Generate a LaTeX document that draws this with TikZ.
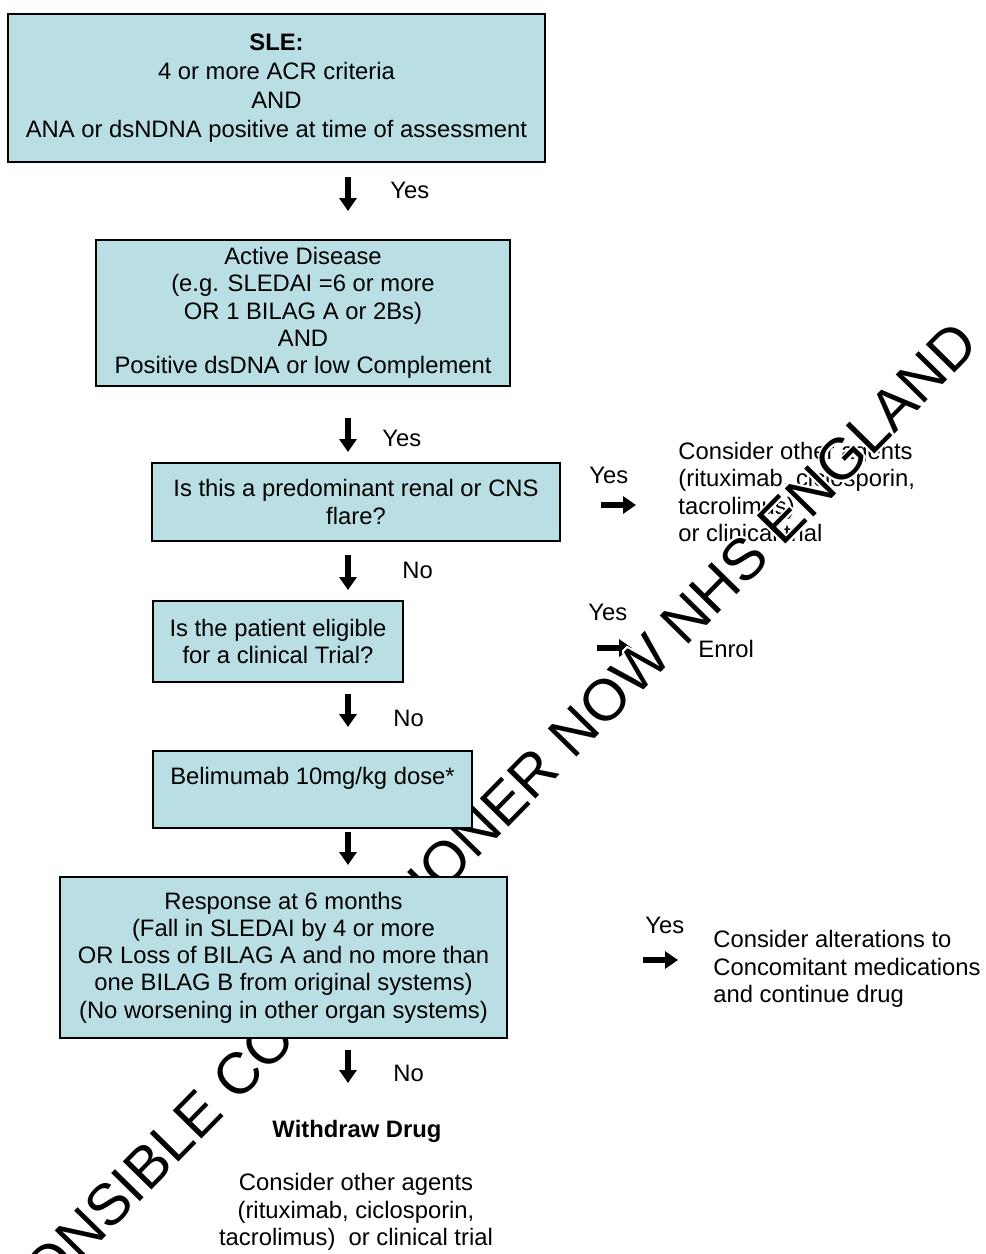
\documentclass[tikz,border=0pt]{standalone}
\usepackage{fontspec}
\setmainfont{Liberation Sans}
\usepackage{contour}
\usetikzlibrary{arrows.meta}
\definecolor{boxfill}{RGB}{185,223,228}
\contourlength{0.8pt}
\contournumber{32}

\tikzset{
  flowbox/.style={draw=black, line width=0.9pt, fill=boxfill, align=center, inner sep=0pt},
  arr/.style={line width=2.8pt, -{Triangle[length=6.5pt,width=8.5pt]}},
  lbl/.style={anchor=west, inner sep=0pt},
  note/.style={anchor=west, align=left, inner sep=0pt},
}

\begin{document}
\begin{tikzpicture}[x=0.5pt, y=-0.5pt, font=\fontsize{11.9pt}{13.6pt}\selectfont]
\useasboundingbox (0,0) rectangle (986,1254);
\fill[white] (0,0) rectangle (986,1254);
\clip (0,0) rectangle (986,1254);

% down arrows
\coordinate (d1a) at (348,177); \coordinate (d1b) at (348,211);
\coordinate (d2a) at (348,418); \coordinate (d2b) at (348,452);
\coordinate (d3a) at (348,555); \coordinate (d3b) at (348,590);
\coordinate (d4a) at (348,694); \coordinate (d4b) at (348,727);
\coordinate (d5a) at (348,832); \coordinate (d5b) at (348,865);
\coordinate (d6a) at (348,1050); \coordinate (d6b) at (348,1083);
\draw[arr] (d1a) -- (d1b);
\draw[arr] (d2a) -- (d2b);
\draw[arr] (d3a) -- (d3b);
\draw[arr] (d4a) -- (d4b);
\draw[arr] (d5a) -- (d5b);
\draw[arr] (d6a) -- (d6b);

\node[lbl] (yes1) at (390,190) {Yes};
\node[lbl] (yes2) at (382,438) {Yes};
\node[lbl] (no3) at (402,570) {No};
\node[lbl] (no4) at (393,718) {No};
\node[lbl] (no6) at (393,1073) {No};

% side exits
\coordinate (r1a) at (601,505); \coordinate (r1b) at (636,505);
\coordinate (r2a) at (597,648); \coordinate (r2b) at (632,648);
\coordinate (r3a) at (643,960); \coordinate (r3b) at (678,960);
\draw[arr] (r1a) -- (r1b);
\draw[arr] (r2a) -- (r2b);
\draw[arr] (r3a) -- (r3b);

\node[lbl] (yesr1) at (589,475) {Yes};
\node[lbl] (yesr2) at (588,612) {Yes};
\node[lbl] (yesr3) at (645,925) {Yes};

\node[note] (agents) at (678,492) {Consider other agents\\(rituximab, ciclosporin,\\tacrolimus)\\or clinical trial};
\node[lbl] (enrol) at (698,649) {Enrol};
\node[note] (alter) at (713,969) {Consider alterations to\\Concomitant medications\\and continue drug};

\node[font=\fontsize{11.9pt}{13.6pt}\selectfont\bfseries, inner sep=0pt] (withdraw) at (357,1131) {Withdraw Drug};
\node[align=center, inner sep=0pt] (others) at (356,1212) {Consider other agents\\(rituximab, ciclosporin,\\tacrolimus)~ or clinical trial};

% watermark
\node[rotate=45.5, inner sep=0pt, font=\fontsize{29.2pt}{31pt}\selectfont] (mark) at (445,864)
  {\contour{white}{RESPONSIBLE COMMISSIONER NOW NHS ENGLAND}};

% boxes
\node[flowbox, minimum width=268.5pt, minimum height=74pt, font=\fontsize{11.9pt}{14.6pt}\selectfont] (sle) at (276.5,88)
  {\textbf{SLE:}\\4 or more ACR criteria\\AND\\ANA or dsNDNA positive at time of assessment};
\node[flowbox, minimum width=207pt, minimum height=73pt] (active) at (303,313)
  {Active Disease\\(e.g. SLEDAI =6 or more\\OR 1 BILAG A or 2Bs)\\AND\\Positive dsDNA or low Complement};
\node[flowbox, minimum width=204pt, minimum height=39pt] (flare) at (356,502)
  {Is this a predominant renal or CNS\\flare?};
\node[flowbox, minimum width=125pt, minimum height=40.5pt] (trial) at (278,641.5)
  {Is the patient eligible\\for a clinical Trial?};
\node[flowbox, minimum width=159.5pt, minimum height=38.5pt] (beli) at (312.5,789.5)
  {Belimumab 10mg/kg dose*\\\mbox{}};
\node[flowbox, minimum width=223.5pt, minimum height=80.5pt] (resp) at (283.5,957.5)
  {Response at 6 months\\(Fall in SLEDAI by 4 or more\\OR Loss of BILAG A and no more than\\one BILAG B from original systems)\\(No worsening in other organ systems)};
\end{tikzpicture}
\end{document}
